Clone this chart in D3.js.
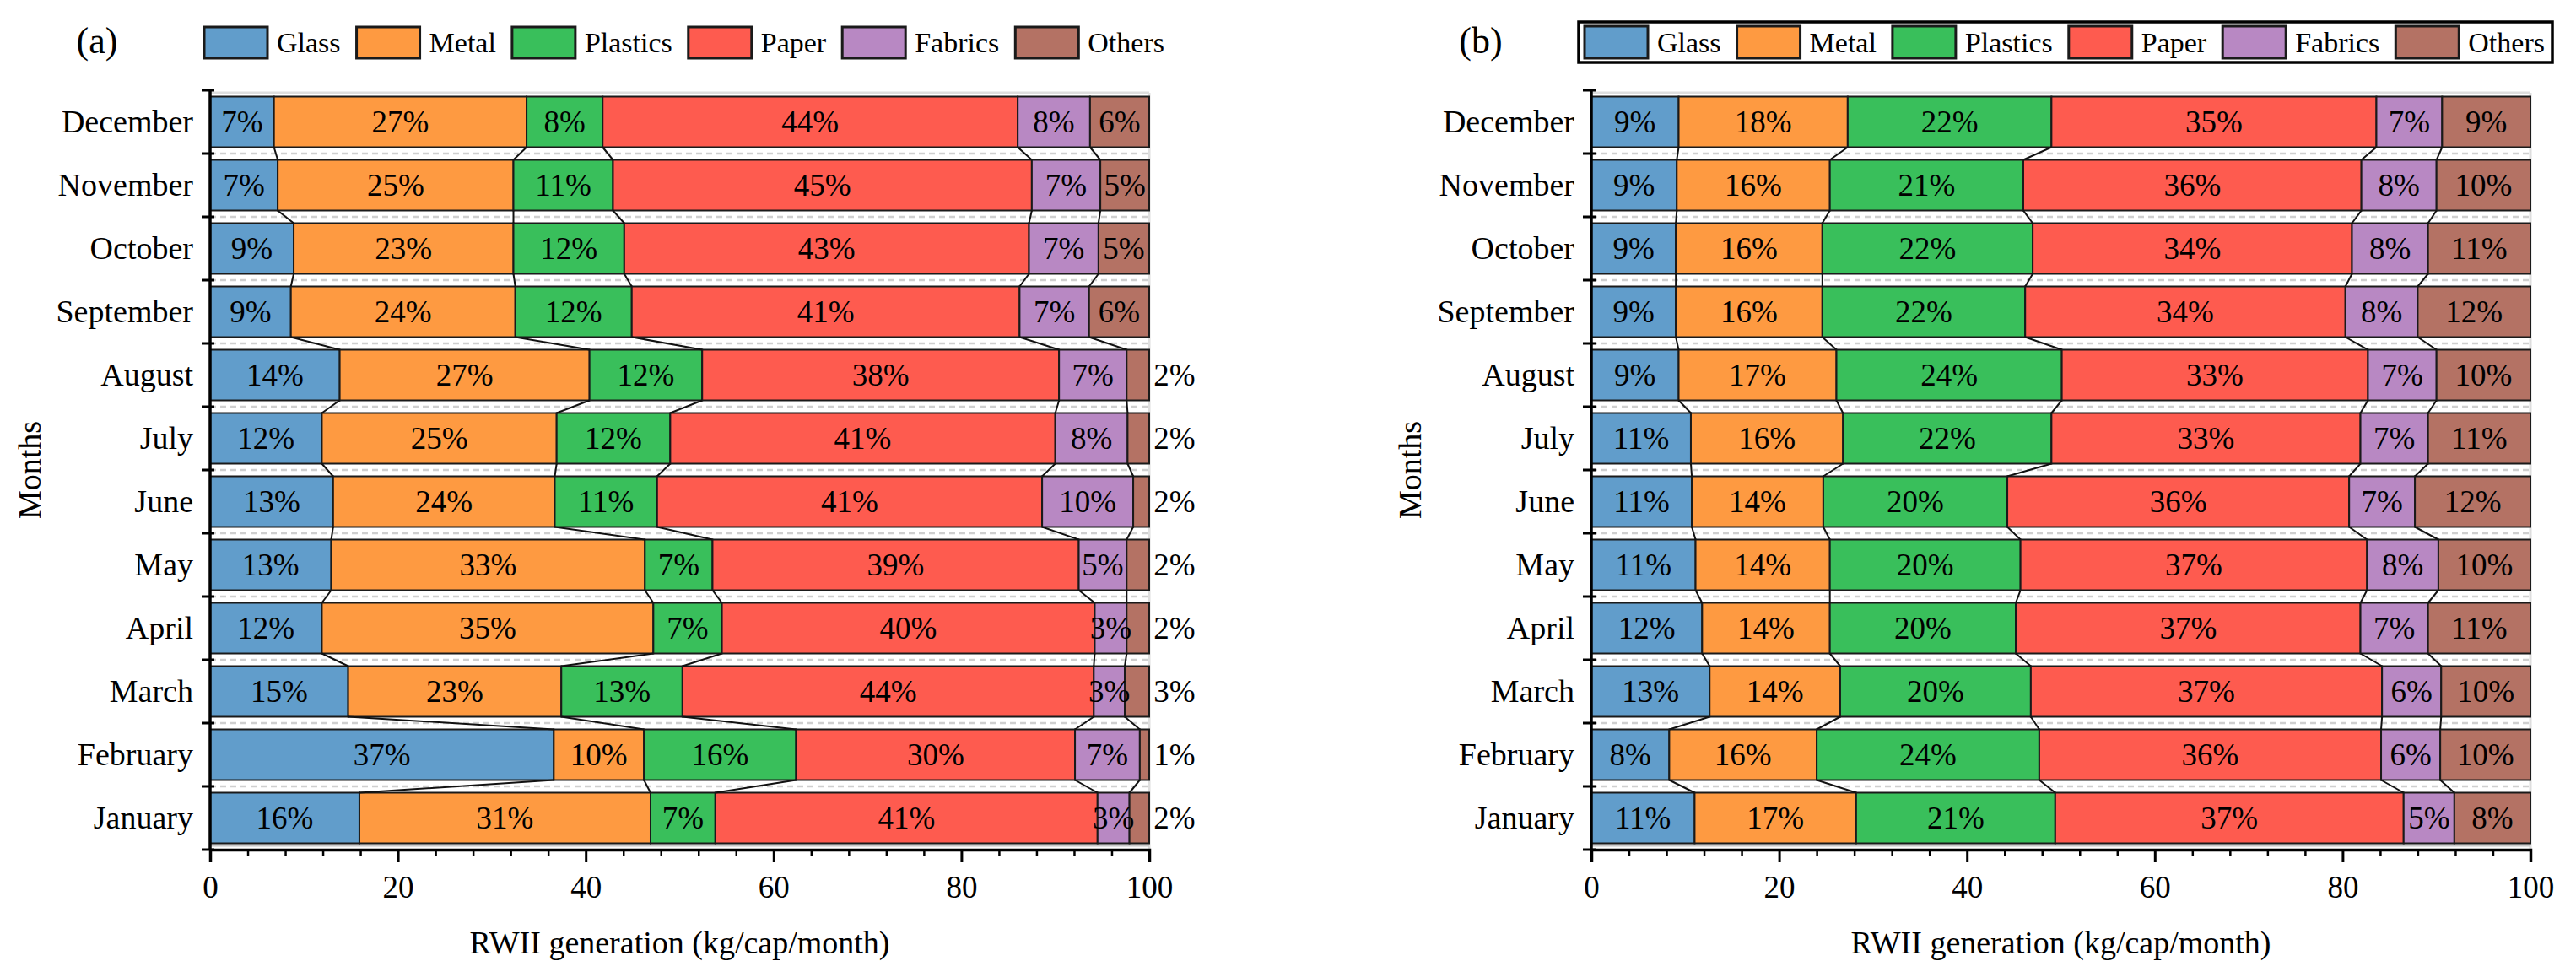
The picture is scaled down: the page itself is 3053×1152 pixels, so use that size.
<!DOCTYPE html>
<html><head><meta charset="utf-8">
<script src="https://cdn.jsdelivr.net/npm/d3@7"></script>
<style>
body{margin:0;background:#fff}
text{font-family:"Liberation Serif","Times New Roman",serif;fill:#000}
</style>
</head><body>
<svg id="chart" width="3053" height="1152"></svg>
<script>
// ---------- data ----------
const months = ["January","February","March","April","May","June","July","August","September","October","November","December"];
const seriesNames = ["Glass","Metal","Plastics","Paper","Fabrics","Others"];
const seriesColors = ["#619DCB","#FE9A41","#39BF5B","#FE5B4F","#B888C3","#B47264"];
const xTickValues = [0,20,40,60,80,100];
const panelTags = ["(a)","(b)"];
const xTitle = "RWII generation (kg/cap/month)";
const yTitle = "Months";

// Panel (a): shares (%) Jan..Dec
const aGlass    = [15.9,36.6,14.7,11.9,12.9,13.1,11.9,13.8, 8.6, 8.9, 7.2, 6.8];
const aMetal    = [31.0, 9.6,22.7,35.3,33.4,23.6,25.0,26.6,23.9,23.4,25.1,26.9];
const aPlastics = [ 6.9,16.2,12.9, 7.3, 7.2,10.9,12.1,12.0,12.4,11.8,10.6, 8.1];
const aPaper    = [40.7,29.7,43.8,39.7,39.0,41.0,41.0,38.0,41.3,43.1,44.6,44.2];
const aFabrics  = [ 3.4, 6.9, 3.3, 3.4, 5.1, 9.7, 7.7, 7.2, 7.4, 7.4, 7.3, 7.7];
const aOthers   = [ 2.1, 1.0, 2.6, 2.4, 2.4, 1.7, 2.3, 2.4, 6.4, 5.4, 5.2, 6.3];

// Panel (b): shares (%) Jan..Dec
const bGlass    = [11.0, 8.3,12.6,11.8,11.1,10.7,10.6, 9.3, 9.0, 9.0, 9.1, 9.3];
const bMetal    = [17.2,15.7,13.9,13.6,14.3,14.0,16.2,16.8,15.6,15.6,16.3,18.0];
const bPlastics = [21.2,23.7,20.3,19.8,20.3,19.6,22.2,24.0,21.6,22.4,20.6,21.7];
const bPaper    = [37.1,36.4,37.4,36.7,36.9,36.4,32.9,32.6,34.1,34.0,36.0,34.6];
const bFabrics  = [ 5.4, 6.3, 6.3, 7.2, 7.6, 7.0, 7.2, 7.3, 7.7, 8.1, 8.0, 7.0];
const bOthers   = [ 8.1, 9.6, 9.5,10.9, 9.8,12.3,10.9,10.0,12.0,10.9,10.0, 9.4];

const panelAData = [aGlass,aMetal,aPlastics,aPaper,aFabrics,aOthers];
const panelBData = [bGlass,bMetal,bPlastics,bPaper,bFabrics,bOthers];

// ---------- drawing ----------
const svg = d3.select("#chart");
svg.append("rect").attr("width",3053).attr("height",1152).attr("fill","#fff");

const PLOT_TOP = 107, PLOT_BOTTOM = 1007;

function drawPanel(cfg, data, tag){
  const g = svg.append("g");
  const x = d3.scaleLinear().domain([0,100]).range([cfg.x0,cfg.x1]);
  const y = d3.scaleBand().domain(months.slice().reverse())
              .range([PLOT_TOP,PLOT_BOTTOM]).paddingInner(0.2).paddingOuter(0.1);
  const bw = y.bandwidth();
  const step = y.step();

  const rows = months.map((m,i)=>{
    let cum = 0;
    const segs = data.map((arr,k)=>{ const v = arr[i]; const s = {k, v, a:cum, b:cum+v, m}; cum += v; return s; });
    return {m, i, segs};
  });

  // light frame
  g.append("line").attr("x1",cfg.x0).attr("x2",cfg.x1).attr("y1",PLOT_TOP+3).attr("y2",PLOT_TOP+3)
    .attr("stroke","#dedede").attr("stroke-width",3);
  g.append("line").attr("x1",cfg.x1).attr("x2",cfg.x1).attr("y1",PLOT_TOP+3).attr("y2",PLOT_BOTTOM)
    .attr("stroke","#dedede").attr("stroke-width",3);
  g.append("line").attr("x1",cfg.x0).attr("x2",cfg.x1).attr("y1",PLOT_BOTTOM-5).attr("y2",PLOT_BOTTOM-5)
    .attr("stroke","#c8c8c8").attr("stroke-width",3);

  // dashed grid at category boundaries
  const bounds = d3.range(1,12).map(j=>PLOT_TOP + j*step);
  g.selectAll(".grid").data(bounds).join("line")
    .attr("x1",cfg.x0).attr("x2",cfg.x1).attr("y1",d=>d).attr("y2",d=>d)
    .attr("stroke","#cfcfcf").attr("stroke-width",2.5).attr("stroke-dasharray","7,5");

  // bars
  const rowG = g.selectAll(".row").data(rows).join("g");
  rowG.selectAll("rect").data(d=>d.segs).join("rect")
    .attr("x",d=>x(d.a)).attr("width",d=>x(d.b)-x(d.a))
    .attr("y",d=>y(d.m)).attr("height",bw)
    .attr("fill",d=>seriesColors[d.k])
    .attr("stroke","#1a1a1a").attr("stroke-width",2);

  // connectors between consecutive months
  const conn = [];
  for(let i=0;i<rows.length-1;i++){
    for(let k=0;k<5;k++){
      conn.push({x1:x(rows[i+1].segs[k].b), y1:y(rows[i+1].m)+bw, x2:x(rows[i].segs[k].b), y2:y(rows[i].m)});
    }
  }
  g.selectAll(".conn").data(conn).join("line")
    .attr("x1",d=>d.x1).attr("y1",d=>d.y1).attr("x2",d=>d.x2).attr("y2",d=>d.y2)
    .attr("stroke","#111").attr("stroke-width",2);

  // segment labels
  const allSegs = rows.flatMap(r=>r.segs);
  g.selectAll(".lab").data(allSegs).join("text")
    .attr("x",d=> (d.k===5 && d.v<4) ? cfg.x1+30 : x((d.a+d.b)/2))
    .attr("y",d=>y(d.m)+bw/2)
    .attr("dy","0.35em")
    .attr("text-anchor","middle")
    .attr("font-size",37)
    .text(d=>Math.round(d.v)+"%");

  // x axis
  const xAxis = g.append("g").attr("transform",`translate(0,${PLOT_BOTTOM})`)
    .call(d3.axisBottom(x).tickValues(xTickValues).tickSize(15).tickPadding(16).tickFormat(d3.format("d")));
  xAxis.select(".domain").attr("stroke","#000").attr("stroke-width",3.5);
  xAxis.selectAll(".tick line").attr("stroke","#000").attr("stroke-width",3);
  xAxis.selectAll(".tick text").attr("font-size",37).attr("font-family","Liberation Serif").attr("fill","#000");
  const xMinor = g.append("g").attr("transform",`translate(0,${PLOT_BOTTOM})`)
    .call(d3.axisBottom(x).tickValues(d3.range(0,101,4).filter(v=>v%20!==0)).tickSize(8).tickFormat(""));
  xMinor.select(".domain").remove();
  xMinor.selectAll(".tick line").attr("stroke","#000").attr("stroke-width",2.5);

  // y axis
  const yAxis = g.append("g").attr("transform",`translate(${cfg.x0},0)`)
    .call(d3.axisLeft(y).tickSize(0).tickPadding(20));
  yAxis.select(".domain").remove();
  yAxis.selectAll(".tick text").attr("font-size",38).attr("font-family","Liberation Serif").attr("fill","#000");
  g.append("line").attr("x1",cfg.x0).attr("x2",cfg.x0).attr("y1",PLOT_TOP).attr("y2",PLOT_BOTTOM)
    .attr("stroke","#000").attr("stroke-width",3.5);
  const yTicks = d3.range(0,13).map(j=>PLOT_TOP + j*step);
  g.selectAll(".ytick").data(yTicks).join("line")
    .attr("x1",cfg.x0-10).attr("x2",cfg.x0+5).attr("y1",d=>d).attr("y2",d=>d)
    .attr("stroke","#000").attr("stroke-width",3);

  // titles
  g.append("text").attr("x",(cfg.x0+cfg.x1)/2).attr("y",1130).attr("text-anchor","middle")
    .attr("font-size",38).text(xTitle);
  g.append("text").attr("transform",`translate(${cfg.monthsX},${(PLOT_TOP+PLOT_BOTTOM)/2}) rotate(-90)`)
    .attr("text-anchor","middle").attr("dy","0.35em").attr("font-size",38).text(yTitle);
  g.append("text").attr("x",cfg.tagX).attr("y",63).attr("text-anchor","middle")
    .attr("font-size",44).text(tag);

  // legend
  const lg = g.append("g");
  if(cfg.frame){
    lg.append("rect").attr("x",cfg.frameX0).attr("y",26).attr("width",cfg.frameX1-cfg.frameX0).attr("height",48)
      .attr("fill","#fff").attr("stroke","#000").attr("stroke-width",3.5);
  }
  let lx = cfg.legendX;
  seriesNames.forEach((name,k)=>{
    lg.append("rect").attr("x",lx).attr("y",cfg.frame?31:32).attr("width",75).attr("height",cfg.frame?38:37)
      .attr("fill",seriesColors[k]).attr("stroke","#1a1a1a").attr("stroke-width",3);
    const t = lg.append("text").attr("x",lx+86).attr("y",62).attr("font-size",34).text(name);
    const w = t.node().getComputedTextLength();
    lx += 75 + 11 + w + 19;
  });
}

drawPanel({x0:249,x1:1362,monthsX:35,tagX:115,legendX:242,frame:false}, panelAData, panelTags[0]);
drawPanel({x0:1886,x1:2999,monthsX:1671,tagX:1755,legendX:1878,frame:true,frameX0:1871,frameX1:3025}, panelBData, panelTags[1]);
</script>
</body></html>
